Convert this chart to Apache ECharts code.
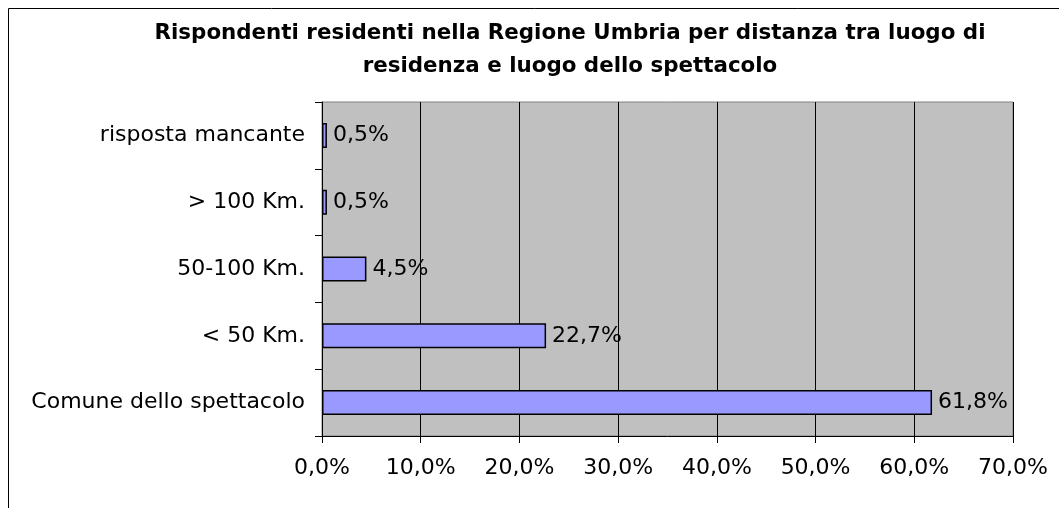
<!DOCTYPE html>
<html>
<head>
    <meta charset="utf-8">
    <script src="https://cdn.jsdelivr.net/npm/echarts@6/dist/echarts.min.js"></script>
</head>
<body style="margin: 0; background: #fff">
<div id="container" style="height: 508px; width: 1059px;"></div>
<script>

// categories from bottom to top
var categories = ['Comune dello spettacolo', '< 50 Km.', '50-100 Km.', '> 100 Km.', 'risposta mancante'];
var values = [61.8, 22.7, 4.5, 0.5, 0.5];
var titleText = 'Rispondenti residenti nella Regione Umbria per distanza tra luogo di\nresidenza e luogo dello spettacolo';

function pct(v) {
    return v.toFixed(1).replace('.', ',') + '%';
}

var chart = echarts.init(document.getElementById('container'));

var option = {
    animation: false,
    textStyle: { fontFamily: 'DejaVu Sans, sans-serif' },
    graphic: [{
        type: 'rect',
        shape: { x: 8.5, y: 8.5, width: 1070, height: 520 },
        style: { fill: null, stroke: '#000', lineWidth: 1 },
        silent: true
    }],
    title: {
        text: titleText,
        left: 565,
        top: 12,
        textAlign: 'center',
        textStyle: { fontSize: 21.4, fontWeight: 'bold', color: '#000', lineHeight: 33 }
    },
    grid: {
        left: 322,
        top: 102,
        right: 46,
        bottom: 72,
        show: true,
        backgroundColor: '#c0c0c0',
        borderWidth: 1,
        borderColor: '#808080'
    },
    xAxis: {
        type: 'value',
        min: 0,
        max: 70,
        interval: 10,
        axisLine: { show: true, lineStyle: { color: '#000', width: 1 } },
        axisTick: { show: true, length: 7, lineStyle: { color: '#000' } },
        axisLabel: { color: '#000', fontSize: 22, margin: 21, formatter: function (v) { return pct(v); } },
        splitLine: { show: true, lineStyle: { color: '#000', width: 1 } }
    },
    yAxis: {
        type: 'category',
        data: categories,
        axisLine: { show: true, lineStyle: { color: '#000', width: 1 } },
        axisTick: { show: true, length: 7, lineStyle: { color: '#000' } },
        axisLabel: { color: '#000', fontSize: 22, margin: 17 }
    },
    series: [{
        type: 'bar',
        data: values,
        barWidth: 25,
        itemStyle: { color: '#9999ff', borderColor: '#000', borderWidth: 1.5 },
        label: {
            show: true,
            position: 'right',
            distance: 6,
            color: '#000',
            fontSize: 22,
            formatter: function (p) { return pct(p.value); }
        }
    }]
};

chart.setOption(option);

</script>
</body>
</html>
